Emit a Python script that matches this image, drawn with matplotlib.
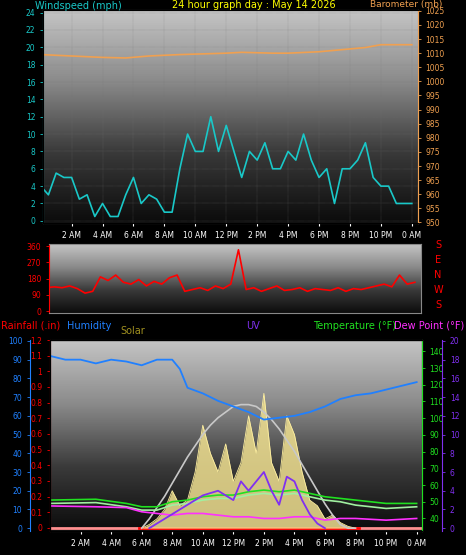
import numpy as np
import matplotlib.pyplot as plt
from matplotlib.colors import LinearSegmentedColormap

# ---- data ----
hh = np.arange(0, 24.01, 0.5)  # half-hourly
wind = [4, 3, 5.5, 5, 5, 2.5, 3, 0.5, 2, 0.5, 0.5, 3, 5, 2, 3, 2.5, 1, 1, 6, 10,
        8, 8, 12, 8, 11, 8, 5, 8, 7, 9, 6, 6, 8, 7, 10, 7, 5, 6, 2, 6,
        6, 7, 9, 5, 4, 4, 2, 2, 2]
baro_t = [0, 2, 4, 5.5, 7, 9, 12, 13, 15, 16, 18, 19, 20, 21, 22, 24]
baro = [1009.5, 1009, 1008.5, 1008.3, 1009, 1009.5, 1010, 1010.3, 1010, 1010, 1010.5, 1011, 1011.5, 1012, 1013, 1013]
wdir = [130, 135, 130, 140, 125, 100, 110, 190, 170, 200, 160, 150, 175, 140, 165, 150, 185, 200,
        110, 120, 130, 115, 140, 125, 150, 340, 120, 130, 110, 125, 140, 115, 120, 130, 110, 125,
        120, 115, 130, 110, 125, 120, 130, 140, 150, 135, 200, 150, 160]
hum_t = [0, 1, 2, 3, 4, 5, 6, 7, 8, 8.5, 9, 10, 11, 12, 13, 14, 15, 16, 17, 18, 19, 20, 21, 22, 23, 24]
hum = [92, 90, 90, 88, 90, 89, 87, 90, 90, 85, 75, 72, 68, 65, 62, 58, 59, 60, 62, 65, 69, 71, 72, 74, 76, 78]
tmp_t = [0, 3, 5, 6, 7, 8, 9, 10, 11, 12, 13, 14, 15, 16, 17, 18, 19, 20, 22, 24]
temp = [51, 51.5, 49, 47, 47, 50, 51, 53, 54, 54, 56, 57, 56, 57, 55, 53, 52, 51, 49, 49]
feels = [49, 49.5, 47, 45, 45, 48, 49, 51, 52, 52, 54, 55, 54, 55, 53, 51, 50, 48, 46, 47]
dew = [47.5, 47, 46.5, 44, 43, 42, 43, 43, 42, 41, 41, 40, 40, 41, 41, 39, 40, 40, 39, 40]
sol_t = np.arange(6, 20.01, 0.5)
solar = [0, 2, 5, 10, 20, 12, 15, 30, 55, 40, 30, 45, 25, 35, 60, 40, 72, 35, 25, 60,
         50, 30, 15, 12, 5, 7, 3, 1, 0]
solmax = [0, 5, 11, 17, 24, 31, 38, 44, 50, 55, 59, 62, 65, 66, 66, 65, 62, 58, 53, 47,
          41, 34, 27, 20, 13, 7, 2, 0, 0]
uv_t = [6.5, 7, 8, 9, 10, 11, 12, 12.5, 13, 14, 14.5, 15, 15.5, 16, 16.5, 17, 17.5, 18]
uv = [0, 0.5, 1.5, 2.5, 3.5, 4, 3, 5, 4, 6, 4, 2.5, 5.5, 5, 3, 1.5, 0.5, 0]
xticks = [2, 4, 6, 8, 10, 12, 14, 16, 18, 20, 22, 24]
xlabels = ['2 AM', '4 AM', '6 AM', '8 AM', '10 AM', '12 PM', '2 PM', '4 PM', '6 PM', '8 PM', '10 PM', '0 AM']

W, H = 466, 555
fig = plt.figure(figsize=(W / 100, H / 100), dpi=100, facecolor='black')
cmap = LinearSegmentedColormap.from_list('bg', ['#0c0c0c', '#3a3a3a', '#8a8a8a', '#c4c4c4'])
fs = 5.5


def box(l, t, r, b):
    return fig.add_axes([l / W, 1 - b / H, (r - l) / W, (b - t) / H])


def bg(ax):
    ax.imshow(np.linspace(0, 1, 100).reshape(-1, 1)[::-1], cmap=cmap, aspect='auto',
              extent=[0, 1, 0, 1], transform=ax.transAxes, zorder=0)
    ax.set_facecolor('black')
    for s in ax.spines.values():
        s.set_color('#888888')


def style(ax, col, side='left'):
    ax.tick_params(axis='y', colors=col, labelsize=fs, length=2, width=0.6)
    ax.spines[side].set_color(col)


# ---- panel 1: wind / barometer ----
ax1 = box(43, 10, 418, 223)
bg(ax1)
ax1.set_xlim(0.15, 24.4)
ax1.set_ylim(-0.25, 24.3)
ax1.set_yticks(range(0, 25, 2))
ax1.plot(hh, wind, color='#19c8c8', lw=1.2, zorder=3)
style(ax1, '#19c8c8')
ax1.set_xticks(xticks)
ax1.set_xticklabels(xlabels)
ax1.tick_params(axis='x', colors='white', labelsize=fs, length=2)
ax1.grid(color='#777777', lw=0.3, ls=':')
ax1b = ax1.twinx()
ax1b.set_ylim(949.8, 1025.3)
ax1b.set_yticks(range(950, 1026, 5))
ax1b.plot(baro_t, baro, color='#f0a050', lw=1.2)
style(ax1b, '#f0a050', 'right')
fig.text(35 / W, 1 - 6 / H, 'Windspeed (mph)', color='#19c8c8', fontsize=7, va='center')
fig.text(172 / W, 1 - 5 / H, '24 hour graph day : May 14 2026', color='yellow', fontsize=7, va='center')
fig.text(370 / W, 1 - 5 / H, 'Barometer (mb)', color='#f0a050', fontsize=6.5, va='center')

# ---- panel 2: wind direction ----
ax2 = box(49, 244, 421, 313)
bg(ax2)
ax2.set_xlim(0.15, 24.4)
ax2.set_ylim(-10, 372)
ax2.set_yticks([0, 90, 180, 270, 360])
ax2.set_xticks([])
ax2.plot(hh, wdir, color='red', lw=1.2, zorder=3)
style(ax2, 'red')
for i, c in enumerate('SENWS'):
    fig.text(438 / W, 1 - (245 + i * 15) / H, c, color='red', fontsize=7, ha='center', va='center')
fig.text(1 / W, 1 - 326 / H, 'Rainfall (.in)', color='red', fontsize=7, va='center')
fig.text(67 / W, 1 - 326 / H, 'Humidity', color='#2080ff', fontsize=7, va='center')
fig.text(120 / W, 1 - 331 / H, 'Solar', color='#a09020', fontsize=7, va='center')
fig.text(246 / W, 1 - 326 / H, 'UV', color='#8030f0', fontsize=7, va='center')
fig.text(313 / W, 1 - 326 / H, 'Temperature (°F)', color='#20e020', fontsize=7, va='center')
fig.text(394 / W, 1 - 326 / H, 'Dew Point (°F)', color='#ff30ff', fontsize=7, va='center')

# ---- panel 3: rain / humidity / solar / uv / temperature ----
ax3 = box(50, 340, 422, 531)
bg(ax3)
ax3.set_xlim(0, 24.35)
ax3.set_ylim(-0.02, 1.2)
ax3.set_yticks(np.round(np.arange(0, 1.21, 0.1), 1))
ax3.set_yticklabels(['0', '0.1', '0.2', '0.3', '0.4', '0.5', '0.6', '0.7', '0.8', '0.9', '1', '1.1', '1.2'])
style(ax3, 'red')
ax3.set_xticks(xticks)
ax3.set_xticklabels(xlabels)
ax3.tick_params(axis='x', colors='white', labelsize=fs, length=2)
ax3.plot([0, 24.35], [0, 0], color='#ff9090', lw=2, zorder=2)
ax3.plot([5.8, 20.2], [0, 0], color='red', lw=2, zorder=6)

axh = ax3.twinx()
axh.yaxis.tick_left()
axh.spines['left'].set_position(('axes', -0.054))
axh.spines['left'].set_visible(True)
axh.set_ylim(-1.5, 100.5)
axh.set_yticks(range(0, 101, 10))
style(axh, '#2080ff')
axh.fill_between(sol_t, solar, color='#f0e090', alpha=0.85, lw=0, zorder=1)
axh.plot(sol_t, solar, color='#fff0a0', lw=0.6)
axh.plot(sol_t, solmax, color='#c8c8c8', lw=1.2)
axh.plot(hum_t, hum, color='#2080ff', lw=1.3)

axt = ax3.twinx()
axt.set_ylim(32.5, 146.8)
axt.set_yticks(range(40, 141, 10))
style(axt, '#20e020', 'right')
axt.plot(tmp_t, feels, color='#a0f0a0', lw=1.2)
axt.plot(tmp_t, temp, color='#20e020', lw=1.2)
axt.plot(tmp_t, dew, color='#ff30ff', lw=1.2)

axu = ax3.twinx()
axu.spines['right'].set_position(('axes', 1.054))
axu.set_ylim(-0.3, 20.1)
axu.set_yticks(range(0, 21, 2))
style(axu, '#8030f0', 'right')
axu.plot(uv_t, uv, color='#8030f0', lw=1.3)

fig.savefig('out.png', dpi=100, facecolor='black')
